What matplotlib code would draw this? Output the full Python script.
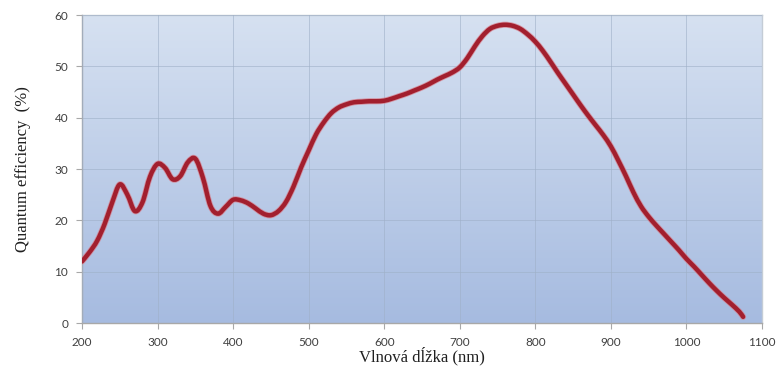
import numpy as np
import matplotlib.pyplot as plt
import matplotlib.patheffects as pe
from matplotlib.colors import LinearSegmentedColormap
from matplotlib.path import Path
from matplotlib.patches import PathPatch

# Quantum efficiency curve, read every 10 nm
wavelength = [200, 210, 220, 230, 240, 250, 260, 270, 280, 290,
              300, 310, 320, 330, 340, 350, 360, 370, 380, 390,
              400, 410, 420, 430, 440, 450, 460, 470, 480, 490,
              500, 510, 520, 530, 540, 550, 560, 570, 580, 590,
              600, 610, 620, 630, 640, 650, 660, 670, 680, 690,
              700, 710, 720, 730, 740, 750, 760, 770, 780, 790,
              800, 810, 820, 830, 840, 850, 860, 870, 880, 890,
              900, 910, 920, 930, 940, 950, 960, 970, 980, 990,
              1000, 1010, 1020, 1030, 1040, 1050, 1060, 1070, 1075]
efficiency = [12.0, 13.8, 16.0, 19.3, 23.5, 27.0, 25.0, 21.8, 23.5, 28.5,
              31.0, 30.2, 28.0, 28.6, 31.3, 32.0, 28.3, 22.8, 21.3, 22.6,
              24.0, 23.9, 23.3, 22.3, 21.3, 21.0, 21.8, 23.6, 26.6, 30.3,
              33.6, 36.8, 39.1, 40.9, 42.0, 42.6, 43.0, 43.1, 43.2, 43.2,
              43.3, 43.7, 44.2, 44.7, 45.3, 45.9, 46.6, 47.4, 48.1, 48.8,
              49.8, 51.6, 53.9, 55.9, 57.3, 57.9, 58.1, 57.9, 57.3, 56.2,
              54.8, 53.0, 50.9, 48.7, 46.6, 44.5, 42.4, 40.4, 38.5, 36.6,
              34.4, 31.6, 28.6, 25.4, 22.7, 20.7, 19.0, 17.4, 15.8, 14.2,
              12.5, 11.0, 9.4, 7.8, 6.3, 4.9, 3.6, 2.2, 1.2]

x_ticks = [200, 300, 400, 500, 600, 700, 800, 900, 1000, 1100]
y_ticks = [0, 10, 20, 30, 40, 50, 60]


def smooth_path(xs, ys):
    """Cubic Bezier path through the points (Catmull-Rom tangents)."""
    p = np.column_stack([xs, ys]).astype(float)
    p_ext = np.vstack([p[0], p, p[-1]])
    verts = [p[0]]
    codes = [Path.MOVETO]
    for i in range(len(p) - 1):
        p0, p1, p2, p3 = p_ext[i], p_ext[i + 1], p_ext[i + 2], p_ext[i + 3]
        c1 = p1 + (p2 - p0) / 6.0
        c2 = p2 - (p3 - p1) / 6.0
        verts += [c1, c2, p2]
        codes += [Path.CURVE4] * 3
    return Path(verts, codes)


fig = plt.figure(figsize=(7.78, 3.82), dpi=100)
ax = fig.add_axes([82 / 778, 1 - 323 / 382, 680 / 778, 308 / 382])

# vertical gradient behind the plot
grad = LinearSegmentedColormap.from_list("bg", ["#a6bbe0", "#d6e1f1"])
ax.imshow(np.linspace(0, 1, 256).reshape(-1, 1), cmap=grad, origin="lower",
          extent=[200, 1100, 0, 60], aspect="auto", zorder=0)

ax.set_xlim(200, 1100)
ax.set_ylim(0, 60)
ax.set_xticks(x_ticks)
ax.set_yticks(y_ticks)
ax.grid(True, color="#9fb0c8", linewidth=0.7, alpha=0.6)
ax.set_axisbelow(False)
for gl in ax.get_xgridlines() + ax.get_ygridlines():
    gl.set_zorder(1)

curve = PathPatch(smooth_path(wavelength, efficiency), facecolor="none",
                  edgecolor="#a21f2e", linewidth=3.2, capstyle="round",
                  joinstyle="round", zorder=3,
                  path_effects=[pe.Stroke(linewidth=4.4, foreground="#d77a86", alpha=0.7),
                                pe.Normal()])
ax.add_patch(curve)

for side in ["left", "bottom"]:
    ax.spines[side].set_color("#a8a8a8")
    ax.spines[side].set_linewidth(1.0)
for side in ["top", "right"]:
    ax.spines[side].set_color("#c4ccd6")
    ax.spines[side].set_linewidth(1.0)

ax.tick_params(axis="both", length=4, width=0.8, color="#a8a8a8",
               labelsize=8.5, labelcolor="#404040", pad=6)
for lbl in ax.get_xticklabels() + ax.get_yticklabels():
    lbl.set_family("Lato")

ax.set_xlabel("Vlnová dĺžka (nm)", family="Liberation Serif", fontsize=12,
              color="#202020", labelpad=-1)
ax.set_ylabel("Quantum efficiency  (%)", family="Liberation Serif", fontsize=12,
              color="#202020", labelpad=17)

fig.savefig("out.png", dpi=100, facecolor="white")
